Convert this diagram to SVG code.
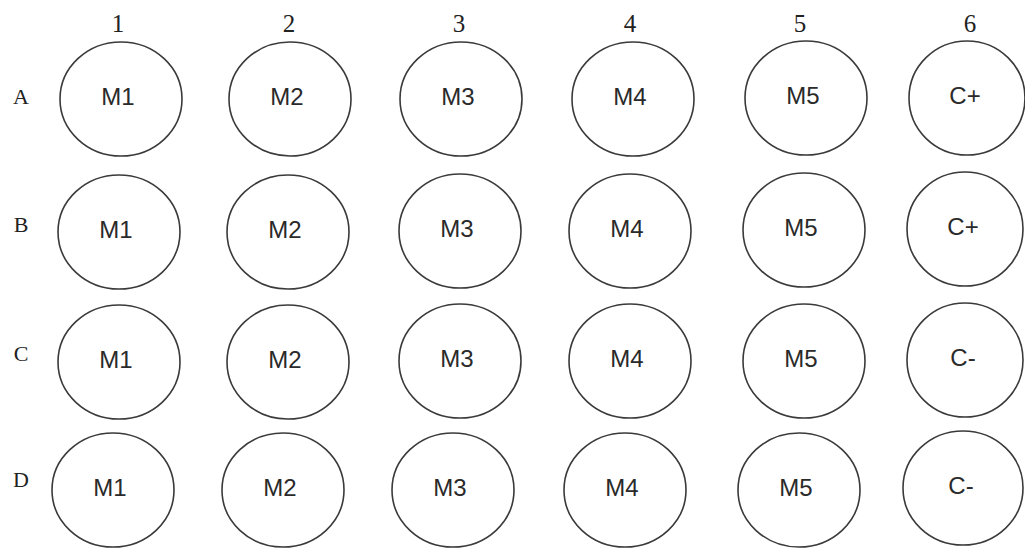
<svg xmlns="http://www.w3.org/2000/svg" width="1025" height="550" viewBox="0 0 1025 550">
<style>
.well{fill:#fff;stroke:#3a3a3a;stroke-width:1.6}
.lbl{font-family:"Liberation Sans",Arial,sans-serif;font-size:24px;fill:#2a2a2a;text-anchor:middle}
.hdr{font-family:"Liberation Serif","Times New Roman",serif;font-size:25px;fill:#222;text-anchor:middle}
.row{font-family:"Liberation Serif","Times New Roman",serif;font-size:22px;fill:#222;text-anchor:middle}
</style>
<rect width="1025" height="550" fill="#fff"/>
<g id="headers">
<text class="hdr" x="118" y="32">1</text>
<text class="hdr" x="289" y="32">2</text>
<text class="hdr" x="459" y="32">3</text>
<text class="hdr" x="630" y="32">4</text>
<text class="hdr" x="800" y="32">5</text>
<text class="hdr" x="970" y="32">6</text>
<text class="row" x="21" y="104">A</text>
<text class="row" x="21" y="232">B</text>
<text class="row" x="21" y="361">C</text>
<text class="row" x="21" y="487">D</text>
</g>
<g id="connectors"></g>
<g id="A1"><ellipse class="well" cx="121" cy="99" rx="61" ry="57"/><text class="lbl" x="118" y="105">M1</text></g>
<g id="A2"><ellipse class="well" cx="290" cy="99" rx="61" ry="57"/><text class="lbl" x="287" y="105">M2</text></g>
<g id="A3"><ellipse class="well" cx="461" cy="99" rx="61" ry="57"/><text class="lbl" x="458" y="105">M3</text></g>
<g id="A4"><ellipse class="well" cx="633" cy="99" rx="61" ry="57"/><text class="lbl" x="630" y="105">M4</text></g>
<g id="A5"><ellipse class="well" cx="806" cy="98" rx="61" ry="57"/><text class="lbl" x="803" y="104">M5</text></g>
<g id="A6"><ellipse class="well" cx="967" cy="98" rx="58" ry="57"/><text class="lbl" x="965" y="104">C+</text></g>
<g id="B1"><ellipse class="well" cx="119" cy="232" rx="61" ry="57"/><text class="lbl" x="116" y="238">M1</text></g>
<g id="B2"><ellipse class="well" cx="288" cy="232" rx="61" ry="57"/><text class="lbl" x="285" y="238">M2</text></g>
<g id="B3"><ellipse class="well" cx="460" cy="231" rx="61" ry="57"/><text class="lbl" x="457" y="237">M3</text></g>
<g id="B4"><ellipse class="well" cx="630" cy="231" rx="61" ry="57"/><text class="lbl" x="627" y="237">M4</text></g>
<g id="B5"><ellipse class="well" cx="804" cy="230" rx="61" ry="57"/><text class="lbl" x="801" y="236">M5</text></g>
<g id="B6"><ellipse class="well" cx="965" cy="229" rx="58" ry="57"/><text class="lbl" x="963" y="235">C+</text></g>
<g id="C1"><ellipse class="well" cx="119" cy="362" rx="61" ry="57"/><text class="lbl" x="116" y="368">M1</text></g>
<g id="C2"><ellipse class="well" cx="288" cy="362" rx="61" ry="57"/><text class="lbl" x="285" y="368">M2</text></g>
<g id="C3"><ellipse class="well" cx="460" cy="361" rx="61" ry="57"/><text class="lbl" x="457" y="367">M3</text></g>
<g id="C4"><ellipse class="well" cx="630" cy="361" rx="61" ry="57"/><text class="lbl" x="627" y="367">M4</text></g>
<g id="C5"><ellipse class="well" cx="804" cy="361" rx="61" ry="57"/><text class="lbl" x="801" y="367">M5</text></g>
<g id="C6"><ellipse class="well" cx="965" cy="360" rx="58" ry="57"/><text class="lbl" x="963" y="366">C-</text></g>
<g id="D1"><ellipse class="well" cx="113" cy="490" rx="61" ry="57"/><text class="lbl" x="110" y="496">M1</text></g>
<g id="D2"><ellipse class="well" cx="283" cy="490" rx="61" ry="57"/><text class="lbl" x="280" y="496">M2</text></g>
<g id="D3"><ellipse class="well" cx="453" cy="490" rx="61" ry="57"/><text class="lbl" x="450" y="496">M3</text></g>
<g id="D4"><ellipse class="well" cx="625" cy="490" rx="61" ry="57"/><text class="lbl" x="622" y="496">M4</text></g>
<g id="D5"><ellipse class="well" cx="799" cy="490" rx="61" ry="57"/><text class="lbl" x="796" y="496">M5</text></g>
<g id="D6"><ellipse class="well" cx="963" cy="488" rx="60" ry="57"/><text class="lbl" x="961" y="494">C-</text></g>
</svg>
